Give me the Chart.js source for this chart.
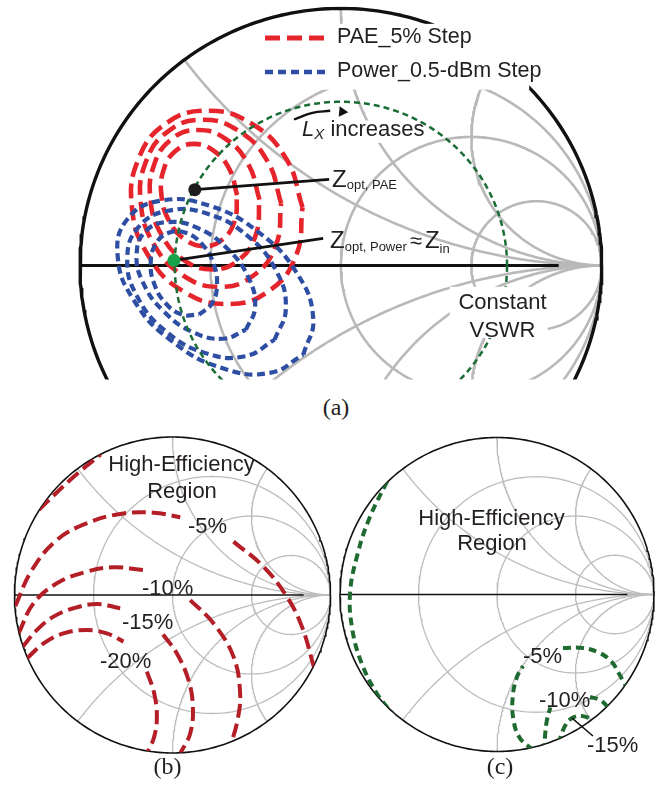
<!DOCTYPE html>
<html><head><meta charset="utf-8">
<script src="https://cdn.jsdelivr.net/npm/chart.js@4.4.1/dist/chart.umd.min.js"></script>
<style>
html,body{margin:0;padding:0;background:#fff;}
#wrap{position:relative;width:670px;height:787px;overflow:hidden;background:#fff;font-family:"Liberation Sans",Arial,sans-serif;color:#231f20;}
canvas{position:absolute;}
.t{position:absolute;white-space:nowrap;line-height:1;}
.c{transform:translateX(-50%);}
.sb{position:relative;}
.serif{font-family:"Liberation Serif","Times New Roman",serif;}
</style></head><body>
<div id="wrap">
<canvas id="ca" width="670" height="386" style="left:0;top:0;width:670px;height:386px"></canvas>
<canvas id="cb" width="335" height="330" style="left:0;top:430px;width:335px;height:330px"></canvas>
<canvas id="cc" width="335" height="330" style="left:335px;top:430px;width:335px;height:330px"></canvas>

<div class="t" style="left:337px;top:25.8px;font-size:21.5px">PAE_5% Step</div>
<div class="t" style="left:337px;top:59.8px;font-size:21.5px">Power_0.5-dBm Step</div>
<div class="t" style="left:302px;top:117.9px;font-size:22px"><i>L</i><span class="sb" style="font-size:15px;top:3.5px;font-style:italic">X</span> increases</div>
<div class="t" style="left:332px;top:166.7px;font-size:24px">Z<span class="sb" style="font-size:13px;top:2px">opt, PAE</span></div>
<div class="t" style="left:330px;top:227.7px;font-size:24px">Z<span class="sb" style="font-size:13px;top:3px">opt, Power</span><span style="font-size:22px;margin-left:3px">≈</span><span style="margin-left:3px">Z</span><span class="sb" style="font-size:13px;top:5px">in</span></div>
<div class="t c" style="left:502.5px;top:291.4px;font-size:22px">Constant</div>
<div class="t c" style="left:502.5px;top:319.4px;font-size:22px">VSWR</div>
<div class="t c serif" style="left:336px;top:394.6px;font-size:24px">(a)</div>

<div class="t c" style="left:181.5px;top:452.9px;font-size:22px">High-Efficiency</div>
<div class="t c" style="left:182px;top:480.4px;font-size:22px">Region</div>
<div class="t" style="left:188px;top:515.4px;font-size:22px">-5%</div>
<div class="t" style="left:142px;top:577.4px;font-size:22px">-10%</div>
<div class="t" style="left:122px;top:611.4px;font-size:22px">-15%</div>
<div class="t" style="left:100px;top:650.4px;font-size:22px">-20%</div>
<div class="t c serif" style="left:167.5px;top:753.6px;font-size:24px">(b)</div>

<div class="t c" style="left:491.5px;top:507.4px;font-size:22px">High-Efficiency</div>
<div class="t c" style="left:492px;top:532.4px;font-size:22px">Region</div>
<div class="t" style="left:523px;top:645.4px;font-size:22px">-5%</div>
<div class="t" style="left:539px;top:689.4px;font-size:22px">-10%</div>
<div class="t" style="left:587px;top:734.4px;font-size:22px">-15%</div>
<div class="t c serif" style="left:500px;top:753.6px;font-size:24px">(c)</div>
</div>
<script>
// ---- Smith chart grid values ----
const gridR = [1/3, 1, 3];
const gridX = [0.5, 1, 2];
const vswrGamma = 0.637;

// ---- (a) PAE contours (5% step), reflection-coefficient points ----
const paeLoop1 = [[-0.398,0.274],[-0.427,0.374],[-0.487,0.446],[-0.563,0.473],[-0.633,0.446],[-0.679,0.374],[-0.688,0.274],[-0.659,0.174],[-0.599,0.102],[-0.523,0.075],[-0.453,0.102],[-0.407,0.174]];
const paeLoop2 = [[-0.312,0.256],[-0.354,0.392],[-0.440,0.491],[-0.548,0.527],[-0.650,0.491],[-0.716,0.392],[-0.730,0.256],[-0.688,0.120],[-0.602,0.021],[-0.494,-0.015],[-0.392,0.021],[-0.326,0.120]];
const paeLoop3 = [[-0.229,0.242],[-0.281,0.405],[-0.391,0.523],[-0.531,0.567],[-0.661,0.523],[-0.747,0.405],[-0.767,0.242],[-0.715,0.079],[-0.605,-0.039],[-0.465,-0.083],[-0.335,-0.039],[-0.249,0.079]];
const paeLoop4 = [[-0.147,0.226],[-0.209,0.414],[-0.343,0.552],[-0.512,0.602],[-0.671,0.552],[-0.776,0.414],[-0.801,0.226],[-0.738,0.038],[-0.605,-0.100],[-0.436,-0.150],[-0.277,-0.100],[-0.172,0.038]];

// ---- (a) Power contours (0.5-dBm step) ----
const powerLoop1 = [[-0.544,-0.191],[-0.495,-0.149],[-0.475,-0.076],[-0.489,0.009],[-0.533,0.084],[-0.595,0.127],[-0.660,0.127],[-0.709,0.085],[-0.729,0.012],[-0.715,-0.073],[-0.671,-0.148],[-0.609,-0.191]];
const powerLoop2 = [[-0.364,-0.250],[-0.329,-0.163],[-0.354,-0.048],[-0.434,0.064],[-0.546,0.144],[-0.661,0.169],[-0.748,0.134],[-0.783,0.047],[-0.758,-0.068],[-0.678,-0.180],[-0.566,-0.260],[-0.451,-0.285]];
const powerLoop3 = [[-0.254,-0.289],[-0.211,-0.167],[-0.249,-0.019],[-0.359,0.116],[-0.511,0.201],[-0.663,0.213],[-0.776,0.149],[-0.819,0.027],[-0.781,-0.121],[-0.671,-0.256],[-0.519,-0.341],[-0.367,-0.353]];
const powerLoop4 = [[-0.144,-0.347],[-0.106,-0.206],[-0.168,-0.031],[-0.315,0.129],[-0.506,0.233],[-0.690,0.252],[-0.818,0.181],[-0.856,0.040],[-0.794,-0.135],[-0.647,-0.295],[-0.456,-0.399],[-0.272,-0.418]];

// ---- (a) optimum points and annotations ----
const optPae = [-0.56, 0.295];
const optPower = [-0.64, 0.02];
const paeLeaderEnd = [-0.045, 0.335];
const powerLeaderEnd = [-0.068, 0.105];
const lxArrow = [[-0.180,0.568],[-0.109,0.594],[-0.041,0.602]];
const lxArrowTip = [0.005, 0.598];

// ---- (b) PAE degradation contours ----
const effB0 = [[-0.845,0.54],[-0.648,0.728],[-0.455,0.89]];
const effB5a = [[-0.995,-0.07],[-0.890,0.158],[-0.732,0.348],[-0.542,0.454],[-0.331,0.513],[-0.120,0.521],[0.049,0.492]];
const effB5b = [[0.386,0.338],[0.576,0.179],[0.724,-0.011],[0.819,-0.200],[0.895,-0.455]];
const effB10a = [[-0.975,-0.245],[-0.880,-0.053],[-0.732,0.074],[-0.542,0.148],[-0.373,0.175],[-0.184,0.158]];
const effB10b = [[0.112,-0.032],[0.259,-0.179],[0.386,-0.390],[0.428,-0.622],[0.41,-0.80],[0.365,-0.96]];
const effB15a = [[-0.950,-0.33],[-0.859,-0.222],[-0.753,-0.137],[-0.627,-0.084],[-0.479,-0.057],[-0.331,-0.084]];
const effB15b = [[-0.06,-0.25],[0.027,-0.369],[0.101,-0.538],[0.129,-0.707],[0.112,-0.876],[0.05,-1.0]];
const effB20a = [[-0.92,-0.40],[-0.816,-0.306],[-0.690,-0.243],[-0.542,-0.222],[-0.416,-0.243],[-0.310,-0.295]];
const effB20b = [[-0.162,-0.485],[-0.116,-0.622],[-0.099,-0.770],[-0.116,-0.897],[-0.16,-1.0]];

// ---- (c) contours ----
const effC0 = [[-0.70,0.72],[-0.809,0.495],[-0.887,0.262],[-0.936,0.008],[-0.921,-0.226],[-0.862,-0.438],[-0.766,-0.629],[-0.64,-0.79]];
const effC5a = [[0.23,-0.99],[0.146,-0.915],[0.105,-0.80],[0.100,-0.653],[0.127,-0.525],[0.166,-0.455]];
const effC5b = [[0.420,-0.341],[0.548,-0.341],[0.656,-0.373],[0.732,-0.430],[0.771,-0.494],[0.83,-0.60]];
const effC10a = [[0.300,-1.0],[0.306,-0.90],[0.318,-0.80],[0.34,-0.72]];
const effC10b = [[0.592,-0.653],[0.656,-0.672],[0.72,-0.73]];
const effC15 = [[0.39,-0.95],[0.433,-0.838],[0.478,-0.787],[0.541,-0.774],[0.62,-0.80]];
const leaderC15 = [[0.478,-0.787],[0.611,-0.901]];

// ---- geometry helpers (Smith-chart coordinate system) ----
function circlePts(cx, cy, rad, n){const p=[];for(let i=0;i<=n;i++){const t=i/n*2*Math.PI;p.push([cx+rad*Math.cos(t),cy+rad*Math.sin(t)]);}return p;}
function rCirclePts(r){return circlePts(r/(1+r),0,1/(1+r),240);}
function xArcPts(x){
  const cy=1/x, rad=Math.abs(1/x), d=1+x*x;
  const ex=(x*x-1)/d, ey=2*x/d;
  let t0=Math.atan2(ey-cy, ex-1); if(t0<0) t0+=2*Math.PI;
  const t1 = x>0 ? 1.5*Math.PI : 0.5*Math.PI;
  const p=[]; const n=200;
  for(let i=0;i<=n;i++){const t=t0+(t1-t0)*i/n;p.push([1+rad*Math.cos(t),cy+rad*Math.sin(t)]);}
  return p;
}
const toXY = a => a.map(p => ({x:p[0], y:p[1]}));
function ln(pts, color, width, extra){
  return Object.assign({data:toXY(pts), showLine:true, borderColor:color, backgroundColor:color,
    borderWidth:width, pointRadius:0, pointHoverRadius:0, fill:false, tension:0}, extra||{});
}
const loop = a => a.concat([a[0]]);

function gridSets(width, color){
  const s=[];
  gridR.forEach(r=>s.push(ln(rCirclePts(r), color, width, {order:100})));
  gridX.forEach(x=>{s.push(ln(xArcPts(x), color, width, {order:100})); s.push(ln(xArcPts(-x), color, width, {order:100}));});
  s.push(ln([[0.8,0],[1,0]], color, width, {order:100}));
  return s;
}

// ---- plugins ----
const circleClip = {
  id:'circleClip',
  beforeDatasetDraw(chart,args){
    const ds=chart.data.datasets[args.index]; if(!ds.clipCircle) return;
    const sx=chart.scales.x, sy=chart.scales.y;
    const cx=sx.getPixelForValue(0), cy=sy.getPixelForValue(0), r=sx.getPixelForValue(1)-cx;
    const ctx=chart.ctx; ctx.save(); ctx.beginPath(); ctx.arc(cx,cy,r,0,2*Math.PI); ctx.clip();
  },
  afterDatasetDraw(chart,args){
    const ds=chart.data.datasets[args.index];
    if(ds.clipCircle) chart.ctx.restore();
    if(ds.masks){
      const sx=chart.scales.x, sy=chart.scales.y, ctx=chart.ctx;
      ctx.save(); ctx.fillStyle='#ffffff';
      ds.masks.forEach(m=>{
        const x0=sx.getPixelForValue(m[0]), x1=sx.getPixelForValue(m[2]);
        const y0=sy.getPixelForValue(m[1]), y1=sy.getPixelForValue(m[3]);
        ctx.fillRect(Math.min(x0,x1),Math.min(y0,y1),Math.abs(x1-x0),Math.abs(y1-y0));
      });
      ctx.restore();
    }
  }
};

const legendItems = [
  {x0:265, x1:325, y:38, color:'#e5242b', width:4.8, dash:[15,7]},
  {x0:265, x1:325, y:72, color:'#2e4ea3', width:4.6, dash:[8,5]}
];
const legendSamples = {
  id:'legendSamples',
  afterDatasetsDraw(chart){
    const ctx=chart.ctx;
    legendItems.forEach(it=>{ctx.save();ctx.strokeStyle=it.color;ctx.lineWidth=it.width;ctx.setLineDash(it.dash);
      ctx.beginPath();ctx.moveTo(it.x0,it.y);ctx.lineTo(it.x1,it.y);ctx.stroke();ctx.restore();});
  }
};

function makeChart(id, W, H, cx, cy, R, datasets, extra){
  return new Chart(document.getElementById(id), {
    type:'scatter',
    data:{datasets},
    options:{responsive:false, animation:false, events:[], devicePixelRatio:1,
      layout:{padding:0},
      scales:{x:{type:'linear',display:false,min:-cx/R,max:(W-cx)/R},
              y:{type:'linear',display:false,min:(cy-H)/R,max:cy/R}},
      plugins:{legend:{display:false},tooltip:{enabled:false}}},
    plugins:[circleClip].concat(extra||[])
  });
}

// ---- panel (a) ----
const GREY='#b9b9b9', RED='#e5242b', BLUE='#2e4ea3', VGREEN='#1b6d36';
const setsA = gridSets(2.6, GREY);
setsA.push(ln(circlePts(0,0,1,360), '#111', 3.4, {order:90}));
setsA.push(ln([[-1,0],[0.835,0]], '#111', 3, {order:90}));
setsA.push({data:[], masks:[[-0.154,0.564,0.331,0.477]], order:85});
[paeLoop1,paeLoop2,paeLoop3,paeLoop4].forEach(l=>setsA.push(ln(loop(l), RED, 4.6, {borderDash:[15,7], tension:0.45, order:70})));
[powerLoop1,powerLoop2,powerLoop3,powerLoop4].forEach(l=>setsA.push(ln(loop(l), BLUE, 4.2, {borderDash:[8,4.5], tension:0.45, order:65})));
setsA.push(ln(circlePts(0,0,vswrGamma,240), VGREEN, 2.5, {borderDash:[6,4], order:60}));
setsA.push({data:[], masks:[[-0.312,0.940,0.722,0.684],[0.417,-0.083,0.793,-0.282]], order:55});
setsA.push(ln([optPae, paeLeaderEnd], '#111', 2.8, {order:40}));
setsA.push(ln([optPower, powerLeaderEnd], '#111', 2.8, {order:40}));
setsA.push(ln(lxArrow, '#111', 2.3, {tension:0.4, order:40}));
setsA.push({data:toXY([lxArrowTip]), showLine:false, pointStyle:'triangle', rotation:95, pointRadius:6, pointBackgroundColor:'#111', pointBorderColor:'#111', pointBorderWidth:0, order:35});
setsA.push({data:toXY([optPae]), showLine:false, pointRadius:6.5, pointBackgroundColor:'#1c1c1c', pointBorderColor:'#1c1c1c', pointBorderWidth:0, order:30});
setsA.push({data:toXY([optPower]), showLine:false, pointRadius:6.5, pointBackgroundColor:'#16a349', pointBorderColor:'#16a349', pointBorderWidth:0, order:30});
makeChart('ca', 670, 386, 341, 268, 266, setsA, [legendSamples]);

// ---- panel (b) ----
const DRED='#b41f27';
const setsB = gridSets(1.3, '#bdbdbd');
setsB.push(ln(circlePts(0,0,1,360), '#111', 1.6, {order:90}));
setsB.push(ln([[-1,0],[0.83,0]], '#111', 1.5, {order:90}));
[effB0,effB5a,effB5b,effB10a,effB10b,effB15a,effB15b,effB20a,effB20b].forEach(l=>setsB.push(ln(l, DRED, 4, {borderDash:[14,6], tension:0.4, order:70, clipCircle:true})));
makeChart('cb', 335, 330, 172.5, 165, 158, setsB);

// ---- panel (c) ----
const DGREEN='#1f6a31';
const setsC = gridSets(1.3, '#bdbdbd');
setsC.push(ln(circlePts(0,0,1,360), '#111', 1.6, {order:90}));
setsC.push(ln([[-1,0],[0.83,0]], '#111', 1.5, {order:90}));
[effC0,effC5a,effC5b,effC10a,effC10b,effC15].forEach(l=>setsC.push(ln(l, DGREEN, 4, {borderDash:[8,5], tension:0.4, order:70, clipCircle:true})));
setsC.push(ln(leaderC15, '#111', 1.5, {order:40}));
makeChart('cc', 335, 330, 162, 164.5, 157, setsC);
</script>
</body></html>
